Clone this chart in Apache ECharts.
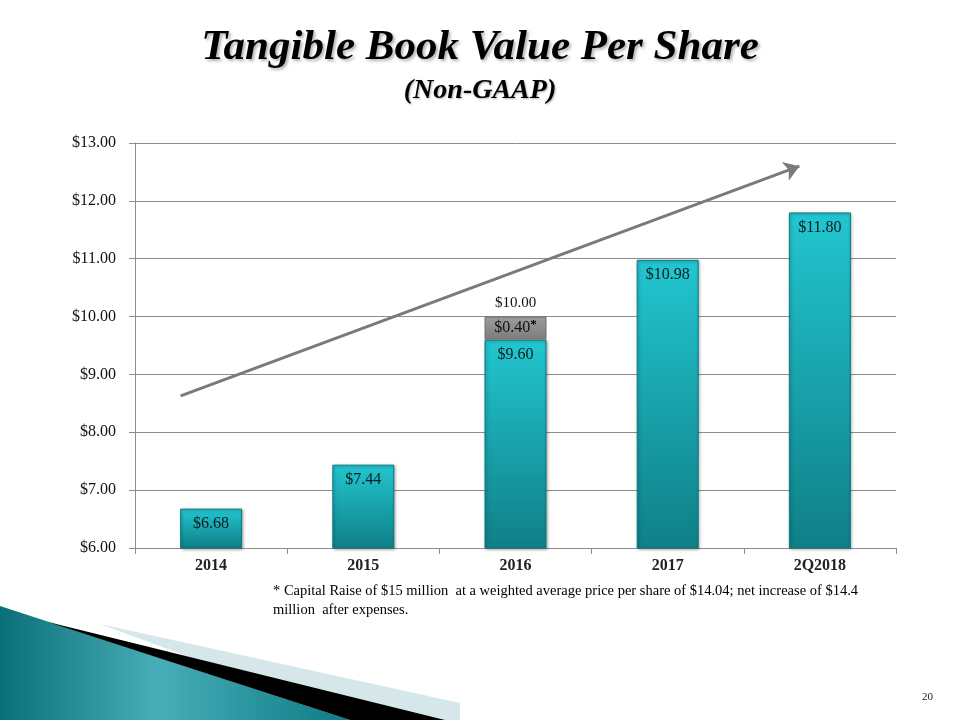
<!DOCTYPE html>
<html><head><meta charset="utf-8">
<script src="https://cdn.jsdelivr.net/npm/echarts@6/dist/echarts.min.js"></script>
<style>html,body{margin:0;padding:0;background:#fff}#c{width:960px;height:720px}</style>
</head><body><div id="c"></div>
<script>
const categories = ['2014', '2015', '2016', '2017', '2Q2018'];
const baseValues = [6.68, 7.44, 9.60, 10.98, 11.80];
const raiseValues = [null, null, 0.40, null, null];
const totalValues = [null, null, 10.00, null, null];
const trendStart = [-0.2, 8.63];
const trendEnd = [3.865, 12.6];

const serif = '"Liberation Serif", "Times New Roman", serif';
const money = v => '$' + Number(v).toFixed(2);

const chart = echarts.init(document.getElementById('c'), null, {renderer: 'canvas'});
chart.setOption({
  animation: false,
  backgroundColor: '#fff',
  title: [
    {text: 'Tangible Book Value Per Share', left: 'center', top: 21,
     textStyle: {fontFamily: serif, fontSize: 43, fontWeight: 'bold', fontStyle: 'italic', color: '#000',
       textShadowColor: 'rgba(0,0,0,0.3)', textShadowBlur: 3, textShadowOffsetX: 2, textShadowOffsetY: 2}},
    {text: '(Non-GAAP)', left: 'center', top: 72,
     textStyle: {fontFamily: serif, fontSize: 28, fontWeight: 'bold', fontStyle: 'italic', color: '#000',
       textShadowColor: 'rgba(0,0,0,0.3)', textShadowBlur: 2, textShadowOffsetX: 1, textShadowOffsetY: 1}}
  ],
  grid: {left: 135, right: 64, top: 143, bottom: 172, containLabel: false},
  xAxis: [{
    type: 'category', data: categories,
    axisLine: {onZero: false, lineStyle: {color: '#8c8c8c', width: 1}},
    axisTick: {show: true, length: 6, lineStyle: {color: '#8c8c8c'}},
    axisLabel: {fontFamily: serif, fontSize: 16, fontWeight: 'bold', color: '#222', margin: 10}
  }, {
    type: 'value', min: -0.5, max: 4.5, show: false
  }],
  yAxis: {
    type: 'value', min: 6, max: 13, interval: 1,
    axisLine: {show: true, onZero: false, lineStyle: {color: '#8c8c8c'}},
    axisTick: {show: true, length: 6, lineStyle: {color: '#8c8c8c'}},
    splitLine: {lineStyle: {color: '#8c8c8c', width: 1}},
    axisLabel: {fontFamily: serif, fontSize: 16, color: '#111', margin: 19, formatter: v => money(v)}
  },
  series: [
    {
      type: 'bar', stack: 'a', data: baseValues, barWidth: 62,
      itemStyle: {
        color: new echarts.graphic.LinearGradient(0, 0, 0, 1, [
          {offset: 0, color: '#22c6d0'}, {offset: 1, color: '#0f7f87'}]),
        borderColor: '#0d7a82', borderWidth: 1,
        shadowColor: 'rgba(0,0,0,0.35)', shadowBlur: 3, shadowOffsetX: 1, shadowOffsetY: 1
      },
      label: {show: true, position: 'insideTop', distance: 7, fontFamily: serif, fontSize: 16, color: '#0b1c1e',
        formatter: p => money(p.value)}
    },
    {
      type: 'bar', stack: 'a', data: raiseValues, barWidth: 62,
      itemStyle: {
        color: new echarts.graphic.LinearGradient(0, 0, 0, 1, [
          {offset: 0, color: '#9c9c9c'}, {offset: 1, color: '#7c7c7c'}]),
        borderColor: '#6e6e6e', borderWidth: 1
      },
      label: {show: true, position: 'inside', fontFamily: serif, fontSize: 16, color: '#111',
        formatter: p => p.value == null ? '' : money(p.value) + '{s|*}',
        rich: {s: {fontFamily: serif, fontSize: 13, fontWeight: 'bold', color: '#000', padding: [0, 0, 8, 0]}}}
    },
    {
      type: 'bar', data: totalValues, barWidth: 62, barGap: '-100%', z: 1,
      itemStyle: {color: 'rgba(0,0,0,0)'},
      label: {show: true, position: 'top', distance: 6, fontFamily: serif, fontSize: 15, color: '#111',
        formatter: p => p.value == null ? '' : money(p.value)}
    },
    {
      type: 'line', xAxisIndex: 1, data: [trendStart, trendEnd], silent: true,
      symbol: 'none', lineStyle: {opacity: 0},
      markLine: {
        silent: true, symbol: ['none', 'arrow'], symbolSize: [15, 15],
        lineStyle: {color: '#7a7a7a', width: 3, type: 'solid'},
        label: {show: false},
        data: [[{coord: trendStart}, {coord: trendEnd}]]
      }
    }
  ],
  graphic: [
    {type: 'polygon', shape: {points: [[0, 606], [0, 720], [350, 720]]},
     style: {fill: new echarts.graphic.LinearGradient(0, 0, 1, 0, [
       {offset: 0, color: '#0a6f78'}, {offset: 0.45, color: '#48adb7'}, {offset: 1, color: '#0c7c86'}])}},
    {type: 'polygon', shape: {points: [[100, 624], [460, 703], [460, 720], [360, 720]]},
     style: {fill: '#d6e7ea'}},
    {type: 'polygon', shape: {points: [[48, 622], [445, 720], [350, 720]]},
     style: {fill: '#000'}},
    {type: 'text', left: 273, top: 582, style: {text: '* Capital Raise of $15 million  at a weighted average price per share of $14.04; net increase of $14.4\nmillion  after expenses.',
      font: '14.5px ' + serif, fill: '#000', lineHeight: 19}},
    {type: 'text', left: 922, top: 692, style: {text: '20', font: '11px ' + serif, fill: '#222'}}
  ]
});
</script></body></html>
